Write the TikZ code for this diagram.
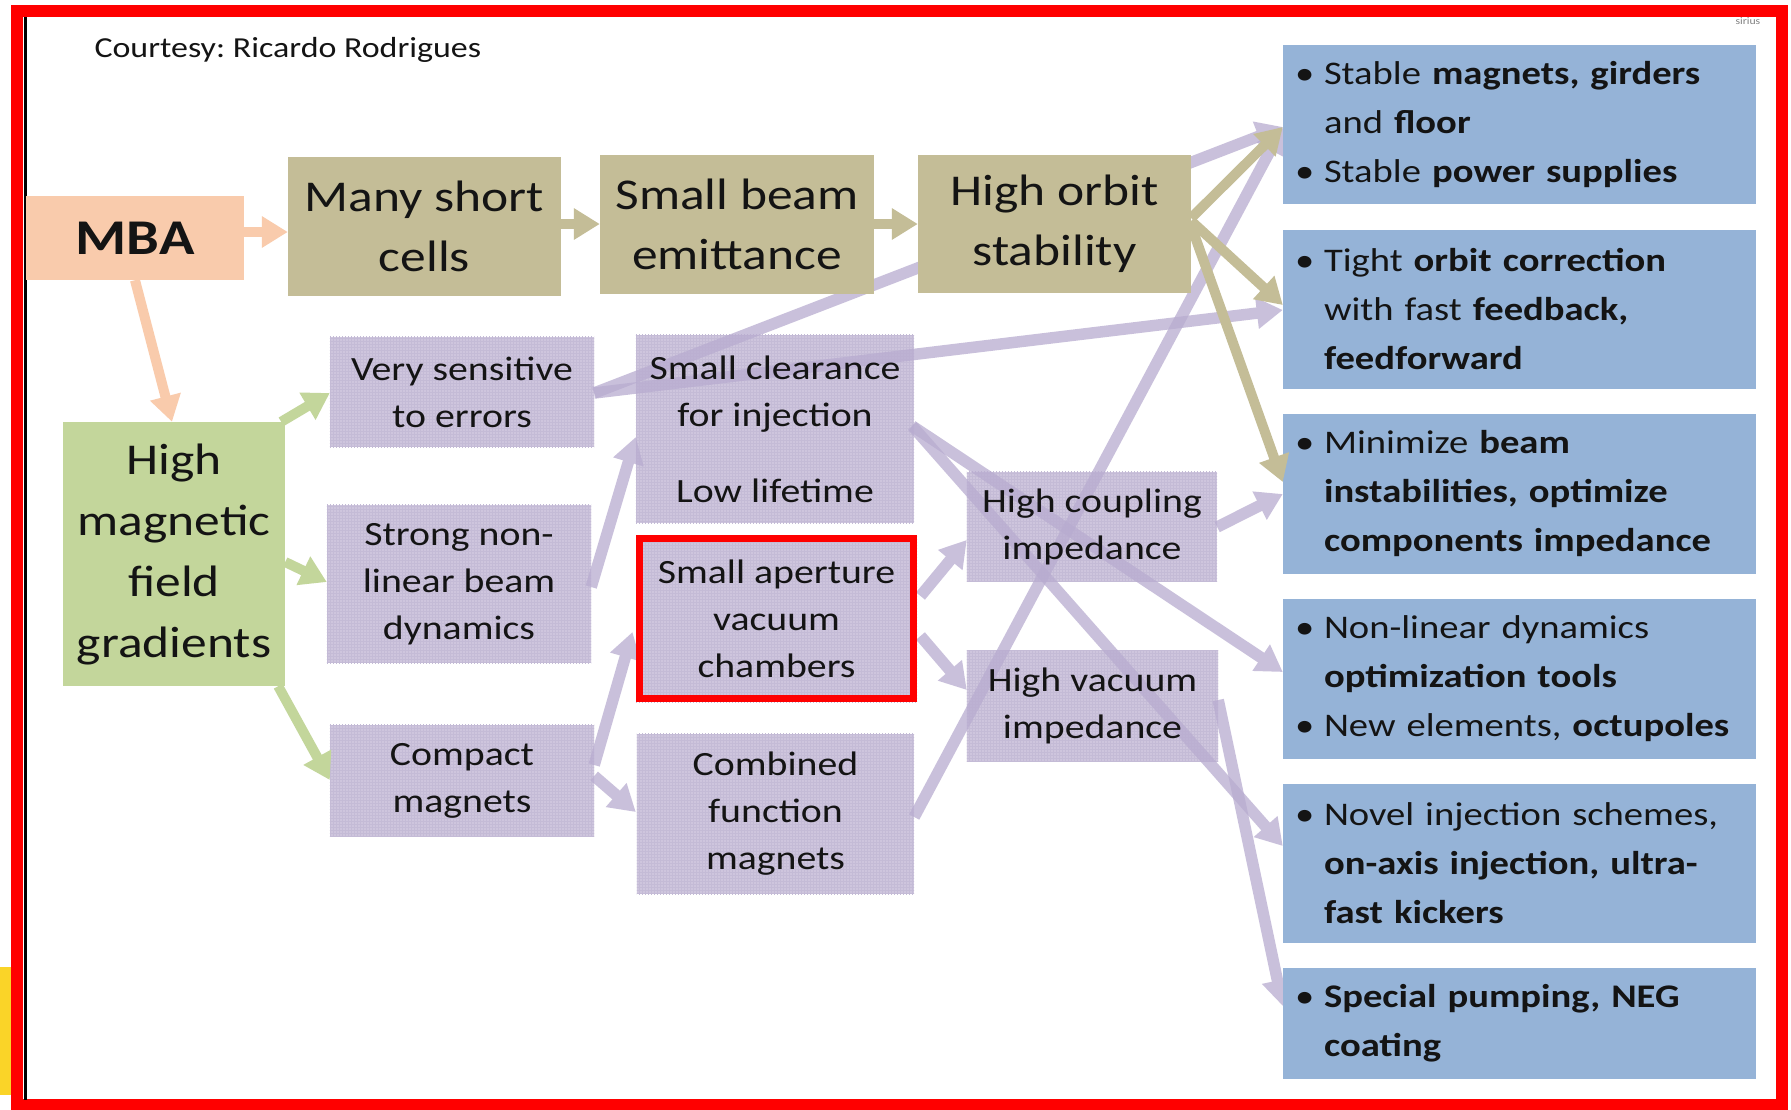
\documentclass[tikz,border=0pt]{standalone}
\usepackage{fontspec}
\setmainfont{Carlito}[FakeStretch=1.17]
\usetikzlibrary{arrows.meta,calc,patterns}

\definecolor{peach}{RGB}{249,203,172}
\definecolor{khakic}{RGB}{196,189,151}
\definecolor{greenc}{RGB}{195,214,155}
\definecolor{lavc}{RGB}{206,197,221}
\definecolor{lavgrid}{RGB}{196,187,214}
\definecolor{lavarrowc}{RGB}{184,172,208}
\definecolor{bluec}{RGB}{149,179,215}
\definecolor{framered}{RGB}{255,0,0}
\definecolor{txt}{RGB}{20,20,20}
\definecolor{sliver}{RGB}{250,212,40}

\pgfdeclarelayer{boxfills}
\pgfdeclarelayer{links}
\pgfsetlayers{boxfills,links,main}

% bullet item and continuation line for the right-hand lists
\newcommand\itm{\makebox[29pt][l]{\textbullet}}
\newcommand\cont{\hspace*{29pt}}
% semi-transparent lavender connector
\newcommand\lavconn[2]{\begin{scope}[transparency group,opacity=0.75]\draw[arr,line width=11.5pt,lavarrowc] #1 -- #2;\end{scope}}

\tikzset{
  box/.style={rectangle,inner sep=0pt,align=center,text=txt},
  bigbox/.style={box,font=\fontsize{44}{60}\selectfont},
  khakibox/.style={bigbox,fill=khakic},
  lavbox/.style={box,font=\fontsize{34}{47}\selectfont},
  lavfill/.style={fill=lavc,postaction={pattern=grid,pattern color=lavgrid}},
  bluebox/.style={rectangle,fill=bluec,inner xsep=12pt,inner ysep=0pt,
    text width=449pt,align=left,text=txt,minimum width=473pt,
    font=\fontsize{33}{49}\selectfont},
  arr/.style={line width=10pt,-{Triangle[length=26pt,width=30pt]}},
}

\begin{document}
\frenchspacing
\begin{tikzpicture}[x=1pt,y=-1pt]
\useasboundingbox (0,0) rectangle (1791,1109);
\begin{pgfonlayer}{boxfills}
\fill[white] (0,0) rectangle (1791,1109);
\end{pgfonlayer}

% slide frame
\fill[sliver] (0,967) rectangle (11,1095);
\draw[framered,line width=12pt] (17,11) rectangle (1782,1105);
\draw[black,line width=3pt] (25,17) -- (25,1100);

% credits and logo
\node[anchor=base west,font=\fontsize{29}{35}\selectfont,text=txt] (credit) at (91,57) {Courtesy: Ricardo Rodrigues};
\node[anchor=base west,font=\fontsize{10}{12}\selectfont,text=gray] (logo) at (1732,24) {sirius};

% lavender boxes (text on top, fills underneath the connectors)
\node[lavbox,minimum width=264pt,minimum height=110pt] (vs) at (462,392) {Very sensitive\\to errors};
\node[lavbox,minimum width=264pt,minimum height=158pt] (snl) at (459,584) {Strong non-\\linear beam\\dynamics};
\node[lavbox,minimum width=264pt,minimum height=111pt] (cm) at (462,780.5) {Compact\\magnets};
\node[lavbox,minimum width=278pt,minimum height=188pt] (sc) at (775,429) {Small clearance\\for injection\\[29pt]Low lifetime};
\node[lavbox,draw=framered,line width=7pt,minimum width=274pt,minimum height=160pt] (sa) at (776.5,618.5) {Small aperture\\vacuum\\chambers};
\node[lavbox,minimum width=277pt,minimum height=160pt] (cf) at (775.5,814) {Combined\\function\\magnets};
\node[lavbox,minimum width=250pt,minimum height=109pt] (hc) at (1092,526.5) {High coupling\\impedance};
\node[lavbox,minimum width=251pt,minimum height=110pt] (hv) at (1092.5,706) {High vacuum\\impedance};
\begin{pgfonlayer}{boxfills}
\foreach \n in {vs,snl,cm,sc,sa,cf,hc,hv}
  \fill[lavfill] (\n.south west) rectangle (\n.north east);
\end{pgfonlayer}

% right-hand lists
\node[bluebox,minimum height=159pt] (b1) at (1519.5,124.5) {\itm Stable \textbf{magnets, girders}\\\cont and \textbf{floor}\\\itm Stable \textbf{power supplies}};
\node[bluebox,minimum height=159pt] (b2) at (1519.5,309.5) {\itm Tight \textbf{orbit correction}\\\cont with fast \textbf{feedback,}\\\cont\textbf{feedforward}};
\node[bluebox,minimum height=160pt] (b3) at (1519.5,494) {\itm Minimize \textbf{beam}\\\cont\textbf{instabilities, optimize}\\\cont\textbf{components impedance}};
\node[bluebox,minimum height=160pt] (b4) at (1519.5,679) {\itm Non-linear dynamics\\\cont\textbf{optimization tools}\\\itm New elements, \textbf{octupoles}};
\node[bluebox,minimum height=159pt] (b5) at (1519.5,863.5) {\itm Novel injection schemes,\\\cont\textbf{on-axis injection, ultra-}\\\cont\textbf{fast kickers}};
\node[bluebox,minimum height=111pt] (b6) at (1519.5,1023.5) {\itm\textbf{Special pumping, NEG}\\\cont\textbf{coating}};

% lavender connectors
\begin{pgfonlayer}{links}
\lavconn{($(vs.east)+(0,1)$)}{($(b1.west)+(0,2.5)$)}
\lavconn{($(vs.east)+(0,1)$)}{($(b2.west)+(0,0.5)$)}
\lavconn{($(snl.east)+(0,3)$)}{($(sc.west)+(0,8)$)}
\lavconn{($(cm.east)+(0,-15.5)$)}{($(sa.west)+(-3.5,13.5)$)}
\lavconn{($(cm.east)+(0,-4.5)$)}{($(cf.west)+(-1,-2)$)}
\lavconn{($(sc.east)+(-2,-3)$)}{($(b4.west)+(0,-7)$)}
\lavconn{($(sc.east)+(-2,-3)$)}{($(b5.west)+(0,-17.5)$)}
\lavconn{($(sa.east)+(3.5,-22.5)$)}{($(hc.west)+(0,13.5)$)}
\lavconn{($(sa.east)+(3.5,17.5)$)}{($(hv.west)+(0,-16)$)}
\lavconn{($(cf.east)+(0,3)$)}{($(b1.west)+(0,2.5)$)}
\lavconn{($(hc.east)+(0,0.5)$)}{(b3.west)}
\lavconn{($(hv.east)+(0,-6)$)}{($(b6.west)+(0,-17.5)$)}
\end{pgfonlayer}

% main chain
\node[bigbox,fill=peach,font=\fontsize{50}{60}\selectfont\bfseries,minimum width=218pt,minimum height=84pt] (mba) at (135,238) {MBA};
\node[khakibox,minimum width=273pt,minimum height=139pt] (msc) at (424.5,226.5) {Many short\\cells};
\node[khakibox,minimum width=274pt,minimum height=139pt] (sbe) at (737,224.5) {Small beam\\emittance};
\node[khakibox,minimum width=273pt,minimum height=138pt] (hos) at (1054.5,224) {High orbit\\stability};
\node[bigbox,fill=greenc,font=\fontsize{44}{61}\selectfont,minimum width=222pt,minimum height=264pt] (hmf) at (174,554) {High\\magnetic\\field\\gradients};

% chain connectors
\draw[arr,peach] ($(mba.east)+(0,-6)$) -- ($(msc.west)+(0,5.5)$);
\draw[arr,peach] (mba.south) -- ($(hmf.north)+(-2,0)$);
\draw[arr,khakic] ($(msc.east)+(0,-2.5)$) -- ($(sbe.west)+(0,-0.5)$);
\draw[arr,khakic] ($(sbe.east)+(0,-0.5)$) -- (hos.west);
\draw[arr,khakic] ($(hos.east)+(0,-6)$) -- ($(b1.west)+(0,2.5)$);
\draw[arr,khakic] ($(hos.east)+(0,-3)$) -- ($(b2.west)+(0,-4.5)$);
\draw[arr,khakic] ($(hos.east)+(0,2)$) -- ($(b3.west)+(0,-12)$);
\draw[arr,greenc] ($(hmf.north east)+(-4,0)$) -- ($(vs.west)+(0,1)$);
\draw[arr,greenc] ($(hmf.east)+(0,8)$) -- ($(snl.west)+(0,-2)$);
\draw[arr,greenc] ($(hmf.south east)+(-7,0)$) -- ($(cm.west)+(0,-0.5)$);
\end{tikzpicture}
\end{document}
